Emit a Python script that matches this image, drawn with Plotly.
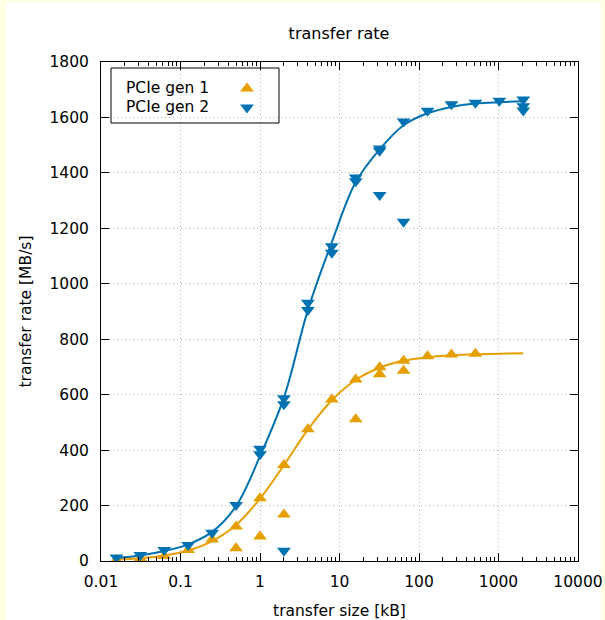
import plotly.graph_objects as go

# ---- data ----
gen1_size = [0.015625, 0.03125, 0.0625, 0.125, 0.25, 0.5, 1, 2, 4, 8, 16, 32, 64, 128, 256, 512,
             0.5, 1, 2, 16, 32, 64]
gen1_rate = [3, 9, 18, 40, 78, 124, 226, 346, 475, 583, 655, 699, 722, 739, 745, 748,
             46, 88, 168, 511, 674, 686]

gen2_size = [0.015625, 0.03125, 0.0625, 0.125, 0.25, 0.5, 1, 1, 2, 2, 4, 4, 8, 8, 16, 16,
             32, 32, 64, 128, 256, 512, 1024, 2048, 2048, 2048,
             2, 32, 64]
gen2_rate = [13, 22, 40, 58, 102, 202, 405, 385, 587, 565, 932, 905, 1135, 1112, 1383, 1370,
             1488, 1480, 1585, 1624, 1648, 1653, 1660, 1665, 1640, 1625,
             37, 1320, 1224]

fit_size = [0.015625, 0.03125, 0.0625, 0.125, 0.25, 0.5, 1, 2, 4, 8, 16, 32, 64, 128, 256, 512, 1024, 2048]
fit1_rate = [5, 10, 20, 38, 72, 130, 225, 346, 474, 580, 653, 697, 722, 735, 742, 746, 748, 749]
fit2_rate = [11, 20, 36, 60, 105, 198, 378, 590, 905, 1150, 1367, 1485, 1572, 1615, 1638, 1650, 1655, 1658]

xtick_vals = [0.01, 0.1, 1, 10, 100, 1000, 10000]
xtick_text = ["0.01", "0.1", "1", "10", "100", "1000", "10000"]
ytick_vals = [0, 200, 400, 600, 800, 1000, 1200, 1400, 1600, 1800]

ORANGE = "#E69F00"
BLUE = "#0072B2"
FONT = "DejaVu Sans"
FS = 15.5

fig = go.Figure()

fig.add_trace(go.Scatter(x=fit_size, y=fit1_rate, mode="lines", line=dict(color=ORANGE, width=2, shape="spline"),
                         showlegend=False, hoverinfo="skip"))
fig.add_trace(go.Scatter(x=fit_size, y=fit2_rate, mode="lines", line=dict(color=BLUE, width=2, shape="spline"),
                         showlegend=False, hoverinfo="skip"))
fig.add_trace(go.Scatter(x=gen1_size, y=gen1_rate, mode="markers", name="\u00a0",
                         marker=dict(symbol="triangle-up", size=12, color=ORANGE)))
fig.add_trace(go.Scatter(x=gen2_size, y=gen2_rate, mode="markers", name="\u00a0",
                         marker=dict(symbol="triangle-down", size=12, color=BLUE)))

W, H = 605, 620
L, R, T, B = 101, 27, 62, 59
pw, ph = W - L - R, H - T - B


def px(xp):
    return (xp - L) / pw


def py(yp):
    return (H - B - yp) / ph


shapes = [
    # white page area over pale yellow border
    dict(type="rect", xref="paper", yref="paper", x0=px(6), x1=px(601), y0=py(622), y1=py(3),
         fillcolor="white", line=dict(width=0), layer="below"),
    # legend box
    dict(type="rect", xref="paper", yref="paper", x0=px(111), x1=px(279), y0=py(123), y1=py(68),
         line=dict(color="black", width=1), fillcolor="rgba(0,0,0,0)"),
]

annotations = [
    dict(text="PCIe gen 1", xref="paper", yref="paper", x=px(211), y=py(88), xanchor="right", yanchor="middle",
         showarrow=False, font=dict(family=FONT, size=FS, color="black")),
    dict(text="PCIe gen 2", xref="paper", yref="paper", x=px(211), y=py(107), xanchor="right", yanchor="middle",
         showarrow=False, font=dict(family=FONT, size=FS, color="black")),
]

fig.update_layout(
    width=W, height=H,
    margin=dict(l=L, r=R, t=T, b=B, autoexpand=False),
    paper_bgcolor="#ffffe4",
    plot_bgcolor="white",
    font=dict(family=FONT, size=FS, color="black"),
    title=dict(text="transfer rate", xref="container", x=339 / W, xanchor="center",
               yref="container", y=1 - 33 / H, yanchor="middle",
               font=dict(family=FONT, size=16)),
    shapes=shapes,
    annotations=annotations,
    legend=dict(x=px(227), y=py(74), xanchor="left", yanchor="top", bgcolor="rgba(0,0,0,0)",
                font=dict(family=FONT, size=11), tracegroupgap=0, itemwidth=30),
)

grid = dict(showgrid=True, gridcolor="#b4b4b4", griddash="1px,3px", gridwidth=1)

fig.update_xaxes(
    type="log", range=[-2, 4],
    tickvals=xtick_vals, ticktext=xtick_text,
    ticks="inside", ticklen=8, tickcolor="black", showline=True, linecolor="black", linewidth=1,
    mirror="ticks", automargin=False,
    minor=dict(ticks="inside", ticklen=4, tickcolor="black", dtick="D1", showgrid=False),
    zeroline=False, ticklabelstandoff=6,
    title=dict(text="transfer size [kB]", standoff=16, font=dict(family=FONT, size=FS)),
    **grid,
)
fig.update_yaxes(
    range=[0, 1800], tickvals=ytick_vals,
    ticks="inside", ticklen=8, tickcolor="black", showline=True, linecolor="black", linewidth=1,
    mirror="ticks", automargin=False,
    zeroline=False, ticklabelstandoff=8,
    title=dict(text="transfer rate [MB/s]", standoff=14, font=dict(family=FONT, size=FS)),
    **grid,
)

fig.write_html("out.html", post_script="document.body.style.margin='0';",
               config={"displayModeBar": False})
